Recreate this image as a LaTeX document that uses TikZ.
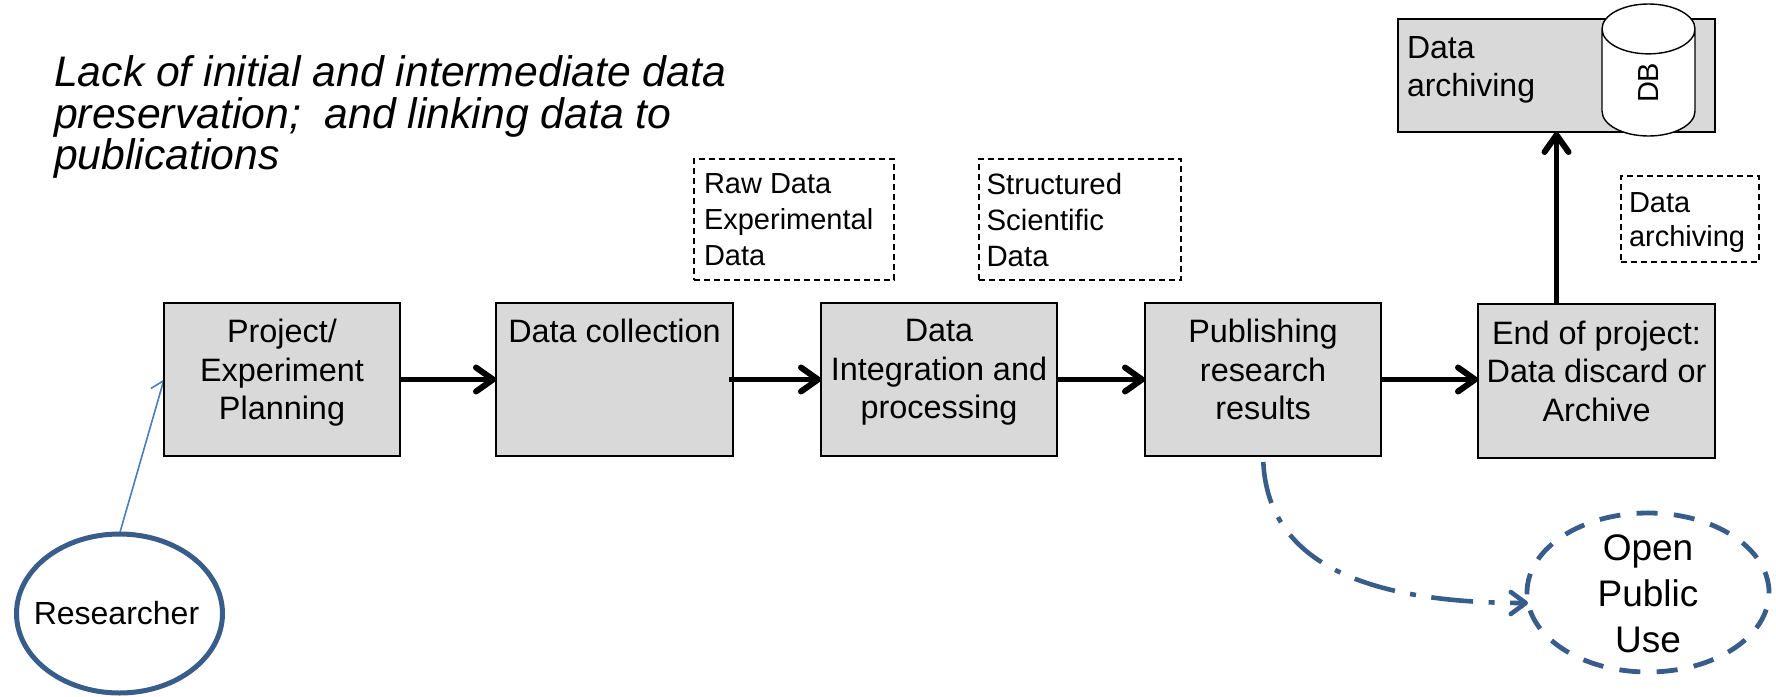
\documentclass[tikz,border=0pt]{standalone}
\usepackage{fontspec}
\setmainfont{Liberation Sans}
\usetikzlibrary{arrows.meta,shapes.geometric,backgrounds}
\definecolor{boxgray}{HTML}{D9D9D9}
\definecolor{darkblue}{HTML}{385D8A}
\definecolor{midblue}{HTML}{4A7EBB}
\newcommand{\boxtxt}[4]{\parbox[c][#2pt][t]{#1pt}{\vspace*{#3pt}\centering\fontsize{32.4}{38.5}\selectfont #4\par}}
\newcommand{\lefttxt}[7]{\parbox[c][#2pt][t]{#1pt}{\vspace*{#3pt}\raggedright\leftskip=#4pt\fontsize{#5}{#6}\selectfont #7\par}}
\tikzset{
  x=1pt,y=-1pt,
  gbox/.style={draw=black,line width=2.8pt,fill=boxgray,inner sep=0pt,outer sep=0pt},
  dbox/.style={draw=black,line width=1.8pt,dash pattern=on 6pt off 4pt,fill=white,inner sep=0pt,outer sep=0pt},
  thick arrow/.style={draw=black,line width=5.5pt,-{Straight Barb[length=17pt,width=24pt,line width=6pt,round]}},
}
\begin{document}
\begin{tikzpicture}
\useasboundingbox (0,0) rectangle (1776,696);
\node[anchor=north west,inner sep=0pt,font=\itshape\fontsize{42.7}{41.5}\selectfont,align=left] (title) at (54,55.5)
  {Lack of initial and intermediate data\\preservation;~ and linking data to\\publications};
\node[gbox] (b1) at (282,379.5) {\boxtxt{236}{153}{16.5}{Project/\\Experiment\\Planning}};
\node[gbox] (b2) at (614.5,379.5) {\boxtxt{237}{153}{16.5}{Data collection}};
\node[gbox] (b3) at (939,379.5) {\boxtxt{236}{153}{16.5}{Data\\Integration and\\processing}};
\node[gbox] (b4) at (1263,379.5) {\boxtxt{236}{153}{16.5}{Publishing\\research\\results}};
\node[gbox] (b5) at (1596.5,381) {\boxtxt{237}{154}{17}{End of project:\\Data discard or\\Archive}};
\node[gbox] (arc) at (1556.5,75.5) {\lefttxt{317}{113}{17}{9}{32}{38}{Data\\archiving}};
\node[draw=black,line width=1.4pt,fill=white,cylinder,rotate=90,anchor=shape center,minimum height=132pt,minimum width=93pt,aspect=2.5,inner sep=0pt,outer sep=0pt,font=\fontsize{29}{30}\selectfont] (db) at (1648.5,70) {DB};
\node[dbox] (raw) at (794,219.5) {\lefttxt{200}{121}{14.5}{10}{29}{35.8}{Raw Data\\Experimental\\Data}};
\node[dbox] (str) at (1080,219.5) {\lefttxt{202}{121}{14.5}{7.5}{29.4}{35.8}{Structured\\Scientific\\Data}};
\node[dbox] (arch2) at (1690,219) {\lefttxt{138}{86}{17}{8}{29}{34}{Data\\archiving}};
\node[ellipse,draw=darkblue,line width=5pt,fill=white,minimum width=206pt,minimum height=159pt,inner sep=0pt,outer sep=0pt,font=\fontsize{32}{34}\selectfont] (res) at (119.5,613.5) {\raisebox{-2pt}{\makebox[0pt]{\hspace*{-6pt}Researcher}}};
\node[ellipse,draw=darkblue,line width=4.8pt,dash pattern=on 21pt off 16.4pt,fill=white,minimum width=242pt,minimum height=159pt,inner sep=0pt,outer sep=0pt,font=\fontsize{37}{46}\selectfont] (open) at (1648,592.5) {\smash{\raisebox{-7pt}{\parbox[c]{120pt}{\centering Open\\Public\\Use}}}};
\draw[thick arrow] (b1.east) -- (b2.west);
\draw[thick arrow] ([xshift=-4pt]b2.east) -- (b3.west);
\draw[thick arrow] (b3.east) -- (b4.west);
\draw[thick arrow] (b4.east) -- (b4.east -| b5.west);
\draw[thick arrow] (b5.north -| arc.south) -- (arc.south);
\begin{pgfonlayer}{background}
\draw[draw=midblue,line width=1.6pt,-{Straight Barb[length=11pt,width=20pt,line width=1.6pt]}] (res.north) -- (b1.west);
\end{pgfonlayer}
\draw[draw=darkblue,line width=4.6pt,dash pattern=on 42pt off 15.5pt on 6pt off 15.5pt,-{Straight Barb[length=15pt,width=22pt,line width=4.6pt,round]},shorten <=6pt]
  (b4.south) .. controls (1268,560) and (1360,603) .. (open.185);
\end{tikzpicture}
\end{document}
